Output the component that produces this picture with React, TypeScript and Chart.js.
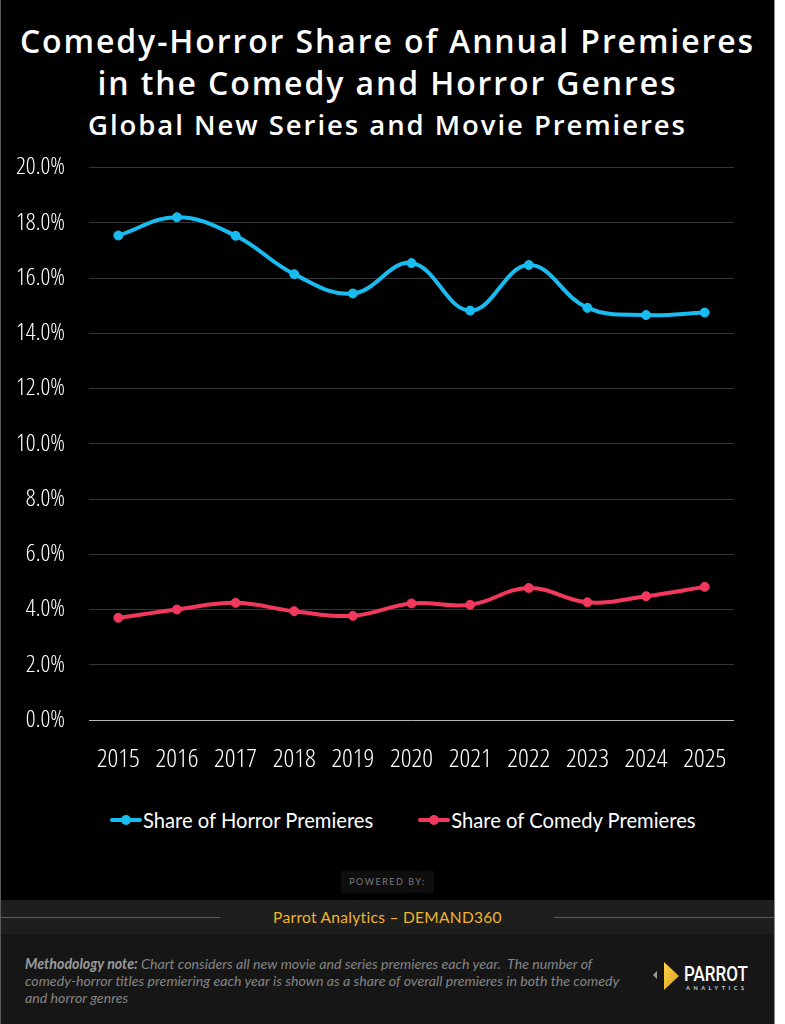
import React, { useEffect, useRef } from "react";
import { Chart, registerables } from "chart.js";

Chart.register(...registerables);

const years = ["2015", "2016", "2017", "2018", "2019", "2020", "2021", "2022", "2023", "2024", "2025"];
const horrorShare = [17.54, 18.2, 17.53, 16.14, 15.44, 16.54, 14.82, 16.47, 14.92, 14.66, 14.75];
const comedyShare = [3.7, 4.0, 4.24, 3.94, 3.77, 4.22, 4.17, 4.78, 4.26, 4.48, 4.82];
const seriesLabels = ["Share of Horror Premieres", "Share of Comedy Premieres"];
const seriesColors = ["#19bcf0", "#f2385c"];
const yMin = 0;
const yMax = 20;
const yStep = 2;

const titleLines = ["Comedy-Horror Share of Annual Premieres", "in the Comedy and Horror Genres"];
const subtitle = "Global New Series and Movie Premieres";

const uiFont = "Lato, 'Open Sans', sans-serif";

type FontPick = { weight: string; family: string };

function pickCondensed(): FontPick {
  const ctx = document.createElement("canvas").getContext("2d");
  const fallback: FontPick = { weight: "normal", family: "Roboto, sans-serif" };
  if (!ctx) return fallback;
  const sample = "2020 20.0%";
  const m = (f: string) => {
    ctx.font = f;
    return ctx.measureText(sample).width;
  };
  const candidates: FontPick[] = [
    { weight: "normal", family: "'Roboto Condensed'" },
    { weight: "normal", family: "'Liberation Sans Narrow'" },
    { weight: "normal", family: "'DejaVu Sans Condensed'" },
    { weight: "normal", family: "'Arial Narrow'" },
    { weight: "condensed", family: "'Open Sans'" },
    { weight: "condensed", family: "'Noto Sans'" },
    { weight: "condensed", family: "Roboto" },
    { weight: "condensed", family: "'DejaVu Sans'" },
    { weight: "normal", family: "Roboto" },
  ];
  let best: FontPick = fallback;
  let bestW = m("100px Roboto, sans-serif");
  for (const c of candidates) {
    const a = m(`${c.weight} 100px ${c.family}, monospace`);
    const b = m(`${c.weight} 100px ${c.family}, serif`);
    if (Math.abs(a - b) > 0.5) continue; // not installed
    if (a < bestW - 0.5) {
      bestW = a;
      best = c;
    }
  }
  return { weight: `350 ${best.weight === "normal" ? "" : best.weight}`.trim(), family: best.family };
}

function fitSize(pick: FontPick, text: string, targetW: number, maxSize: number) {
  const ctx = document.createElement("canvas").getContext("2d");
  if (!ctx) return maxSize * 0.8;
  ctx.font = `${pick.weight} 100px ${pick.family}, sans-serif`;
  const w = ctx.measureText(text).width;
  return Math.min(maxSize, (targetW * 100) / w);
}

function LineChart() {
  const ref = useRef<HTMLCanvasElement | null>(null);
  useEffect(() => {
    if (!ref.current) return;
    const pick = pickCondensed();
    const fam = `${pick.family}, sans-serif`;
    const xSize = fitSize(pick, "2020", 43, 28);
    const ySize = fitSize(pick, "20.0%", 49, 25);
    const chart = new Chart(ref.current, {
      type: "line",
      data: {
        labels: years,
        datasets: [
          {
            label: seriesLabels[0],
            data: horrorShare,
            borderColor: seriesColors[0],
            backgroundColor: seriesColors[0],
            pointBackgroundColor: seriesColors[0],
            pointBorderColor: seriesColors[0],
            borderWidth: 4,
            pointRadius: 4.5,
            pointBorderWidth: 1,
            tension: 0.4,
          },
          {
            label: seriesLabels[1],
            data: comedyShare,
            borderColor: seriesColors[1],
            backgroundColor: seriesColors[1],
            pointBackgroundColor: seriesColors[1],
            pointBorderColor: seriesColors[1],
            borderWidth: 4,
            pointRadius: 4.5,
            pointBorderWidth: 1,
            tension: 0.4,
          },
        ],
      },
      options: {
        animation: false,
        responsive: false,
        layout: { padding: { top: 16, right: 40, bottom: 0, left: 0 } },
        plugins: { legend: { display: false }, tooltip: { enabled: false } },
        scales: {
          x: {
            offset: true,
            grid: { display: false },
            border: { display: false },
            ticks: {
              color: "#ffffff",
              font: { family: fam, size: xSize, weight: pick.weight as any, lineHeight: 1.2 },
              padding: 15.5,
              maxRotation: 0,
            },
            afterFit: (s: any) => {
              s.height = 82;
            },
          },
          y: {
            min: yMin,
            max: yMax,
            border: { display: false },
            grid: {
              drawTicks: false,
              color: (c: any) => (c.tick && c.tick.value === 0 ? "#b8b8b8" : "#353535"),
              lineWidth: 1,
            },
            ticks: {
              stepSize: yStep,
              color: "#ffffff",
              font: { family: fam, size: ySize, weight: pick.weight as any, lineHeight: 1.2 },
              padding: 24,
              callback: (v: any) => Number(v).toFixed(1) + "%",
            },
            afterFit: (s: any) => {
              s.width = 88;
            },
          },
        },
      },
    });
    return () => chart.destroy();
  }, []);
  return <canvas ref={ref} width={773} height={673} style={{ display: "block", width: 773, height: 673 }} />;
}

function LegendItem({ color, label }: { color: string; label: string }) {
  return (
    <div style={{ display: "flex", alignItems: "center" }}>
      <div style={{ position: "relative", width: 32, height: 12, marginRight: 1 }}>
        <div style={{ position: "absolute", left: 0, right: 0, top: 4, height: 4, borderRadius: 2, background: color }} />
        <div style={{ position: "absolute", left: 11, top: 1, width: 10, height: 10, borderRadius: 5, background: color }} />
      </div>
      <span style={{ color: "#ffffff", fontFamily: uiFont, fontSize: 20.2, whiteSpace: "nowrap" }}>{label}</span>
    </div>
  );
}

export default function App() {
  useEffect(() => {
    document.body.style.margin = "0";
  }, []);
  return (
    <div style={{ position: "absolute", top: 0, left: 0, width: 785, height: 1024, background: "#ffffff", overflow: "hidden" }}>
      <div
        style={{
          position: "absolute",
          top: 0,
          left: 0,
          width: 773,
          height: 1024,
          background: "#000000",
          borderLeft: "1px solid #5a5a5a",
          borderRight: "1px solid #8a8a8a",
        }}
      >
        <div
          style={{
            position: "absolute",
            top: 20,
            left: 0,
            width: 773,
            textAlign: "center",
            color: "#ffffff",
            fontFamily: "'Open Sans', Lato, sans-serif",
            fontWeight: 600,
            fontSize: 32,
            letterSpacing: 1.9,
            lineHeight: "42px",
            whiteSpace: "nowrap",
          }}
        >
          <div>{titleLines[0]}</div>
          <div>{titleLines[1]}</div>
          <div style={{ fontSize: 27.5, letterSpacing: 1.95, lineHeight: "42px" }}>{subtitle}</div>
        </div>

        <div style={{ position: "absolute", top: 129, left: 0 }}>
          <LineChart />
        </div>

        <div
          style={{
            position: "absolute",
            top: 808,
            left: 109,
            display: "flex",
            gap: 45,
          }}
        >
          <LegendItem color={seriesColors[0]} label={seriesLabels[0]} />
          <LegendItem color={seriesColors[1]} label={seriesLabels[1]} />
        </div>

        <div
          style={{
            position: "absolute",
            top: 871,
            left: 340,
            width: 93,
            height: 22,
            background: "#0e0e0e",
            color: "#7a7a7a",
            fontFamily: uiFont,
            fontSize: 9,
            letterSpacing: 1.5,
            lineHeight: "22px",
            textAlign: "center",
          }}
        >
          POWERED BY:
        </div>

        <div style={{ position: "absolute", top: 900, left: 0, width: 773, height: 34, background: "#1e1e1e" }}>
          <div style={{ position: "absolute", top: 17, left: 0, width: 219, height: 1, background: "#6e5b26" }} />
          <div style={{ position: "absolute", top: 17, left: 553, width: 220, height: 1, background: "#6e5b26" }} />
          <div
            style={{
              position: "absolute",
              top: 0,
              left: 0,
              width: 773,
              textAlign: "center",
              lineHeight: "34px",
              color: "#f0b52a",
              fontFamily: uiFont,
              fontSize: 15.5,
              letterSpacing: 0.3,
            }}
          >
            Parrot Analytics – DEMAND360
          </div>
        </div>

        <div style={{ position: "absolute", top: 934, left: 0, width: 773, height: 90, background: "#161616" }}>
          <div
            style={{
              position: "absolute",
              top: 21,
              left: 24,
              width: 620,
              color: "#858585",
              fontFamily: uiFont,
              fontStyle: "italic",
              fontSize: 14.2,
              lineHeight: "17px",
              whiteSpace: "nowrap",
            }}
          >
            <b style={{ color: "#9a9a9a" }}>Methodology note:</b> Chart considers all new movie and series premieres each year.&nbsp; The number of
            <br />
            comedy-horror titles premiering each year is shown as a share of overall premieres in both the comedy
            <br />
            and horror genres
          </div>
          <svg style={{ position: "absolute", left: 650, top: 26 }} width={105} height={34} viewBox="0 0 105 34">
            <polygon points="6,11 6,19 2,15" fill="#9a9a9a" />
            <defs>
              <linearGradient id="pg" x1="0" y1="0" x2="1" y2="1">
                <stop offset="0" stopColor="#ffd54a" />
                <stop offset="1" stopColor="#d99a1a" />
              </linearGradient>
            </defs>
            <polygon points="13,2 28,16 13,30" fill="url(#pg)" />
            <text x={33} y={21} fill="#ffffff" fontFamily="Roboto, sans-serif" fontSize={20} fontWeight={500} textLength={64} lengthAdjust="spacingAndGlyphs">
              PARROT
            </text>
            <text x={35} y={30} fill="#cfcfcf" fontFamily={uiFont} fontSize={5.5} fontWeight={700} textLength={58} lengthAdjust="spacing">
              ANALYTICS
            </text>
          </svg>
        </div>
      </div>
    </div>
  );
}
